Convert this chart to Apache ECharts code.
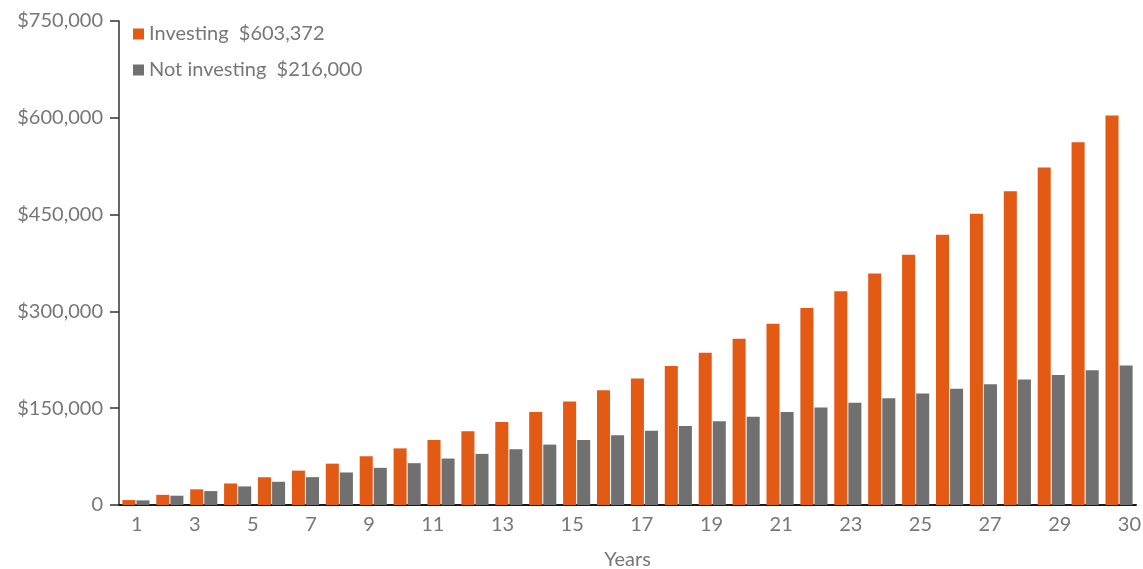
<!DOCTYPE html>
<html>
<head>
<meta charset="utf-8">
<style>
  html, body { margin: 0; padding: 0; background: #fff; }
  #chart { width: 1143px; height: 569px; }
</style>
<script src="https://cdn.jsdelivr.net/npm/echarts@6/dist/echarts.min.js"></script>
</head>
<body>
<div id="chart"></div>
<script>
// Years 1..30 of saving $600 a month
const years = Array.from({ length: 30 }, (_, i) => String(i + 1));

// Balance when the money is invested (6% a year, deposits at the start of each year)
const investing = [
  7632, 15722, 24297, 33387, 43022, 53236, 64062, 75537, 87702, 100596,
  114264, 128751, 144108, 160387, 177642, 195933, 215321, 235872, 257656, 280748,
  305224, 331170, 358672, 387824, 418726, 451482, 486202, 523007, 562019, 603372
];

// Balance when the money is simply kept
const notInvesting = [
  7200, 14400, 21600, 28800, 36000, 43200, 50400, 57600, 64800, 72000,
  79200, 86400, 93600, 100800, 108000, 115200, 122400, 129600, 136800, 144000,
  151200, 158400, 165600, 172800, 180000, 187200, 194400, 201600, 208800, 216000
];

// Year labels shown under the axis
const yearLabels = ['1', '3', '5', '7', '9', '11', '13', '15', '17', '19', '21', '23', '25', '27', '29', '30'];

// Value axis ticks
const yTicks = [0, 150000, 300000, 450000, 600000, 750000];

const FONT = 'Lato, "Open Sans", sans-serif';
const FONT_SIZE = 20;
const TEXT = '#777777';
const ORANGE = '#E25A13';
const GREY = '#707070';

const GRID = { left: 119, right: 7, top: 21, bottom: 64 };
const gridWidth = 1143 - GRID.left - GRID.right;

// Year labels are spread across the row with equal gaps between them
function spreadLabels(labels, startX, endX) {
  const ctx = document.createElement('canvas').getContext('2d');
  ctx.font = FONT_SIZE + 'px ' + FONT;
  const widths = labels.map(t => ctx.measureText(t).width);
  const total = widths.reduce((a, b) => a + b, 0);
  const gap = (endX - startX - total) / (labels.length - 1);
  const centers = [];
  let x = startX;
  widths.forEach(w => { centers.push(x + w / 2); x += w + gap; });
  return centers;
}
const labelCenters = spreadLabels(yearLabels, 12, 1022);
const labelByPos = new Map(labelCenters.map((c, i) => [c, yearLabels[i]]));

const money = v => '$' + v.toLocaleString('en-US');
const finals = {
  'Investing': investing[investing.length - 1],
  'Not investing': notInvesting[notInvesting.length - 1]
};

const chart = echarts.init(document.getElementById('chart'), null, { renderer: 'canvas' });
chart.setOption({
  animation: false,
  textStyle: { fontFamily: FONT },
  grid: Object.assign({ outerBoundsMode: 'none', containLabel: false }, GRID),
  legend: {
    orient: 'vertical',
    left: 128,
    top: 19,
    itemWidth: 11,
    itemHeight: 11,
    itemGap: 16,
    itemTextGap: 4,
    icon: 'rect',
    formatter: name => name + '  ' + money(finals[name]),
    textStyle: { color: TEXT, fontSize: FONT_SIZE, fontFamily: FONT }
  },
  xAxis: [
    {
      type: 'category',
      data: years,
      position: 'bottom',
      axisLine: { lineStyle: { color: '#1a1a1a', width: 2 } },
      axisTick: { show: false },
      axisLabel: { show: false },
      name: 'Years',
      nameLocation: 'middle',
      nameGap: 45,
      nameTextStyle: { color: TEXT, fontSize: FONT_SIZE, fontFamily: FONT }
    },
    {
      type: 'value',
      position: 'bottom',
      min: 0,
      max: gridWidth,
      axisLine: { show: false },
      axisTick: { show: false },
      splitLine: { show: false },
      axisLabel: {
        customValues: labelCenters,
        margin: 10,
        color: TEXT,
        fontSize: FONT_SIZE,
        fontFamily: FONT,
        formatter: v => labelByPos.get(v) || ''
      }
    }
  ],
  yAxis: {
    type: 'value',
    min: yTicks[0],
    max: yTicks[yTicks.length - 1],
    interval: yTicks[1] - yTicks[0],
    axisLine: { show: true, lineStyle: { color: '#333333', width: 1.5 } },
    axisTick: { show: true, length: 9, lineStyle: { color: '#333333', width: 1.5 } },
    splitLine: { show: false },
    axisLabel: {
      margin: 16,
      color: TEXT,
      fontSize: FONT_SIZE,
      fontFamily: FONT,
      formatter: v => (v === 0 ? '0' : money(v))
    }
  },
  series: [
    {
      name: 'Investing',
      type: 'bar',
      xAxisIndex: 0,
      data: investing,
      itemStyle: { color: ORANGE },
      barGap: '8%',
      barCategoryGap: '20%'
    },
    {
      name: 'Not investing',
      type: 'bar',
      xAxisIndex: 0,
      data: notInvesting,
      itemStyle: { color: GREY }
    }
  ]
});
</script>
</body>
</html>
